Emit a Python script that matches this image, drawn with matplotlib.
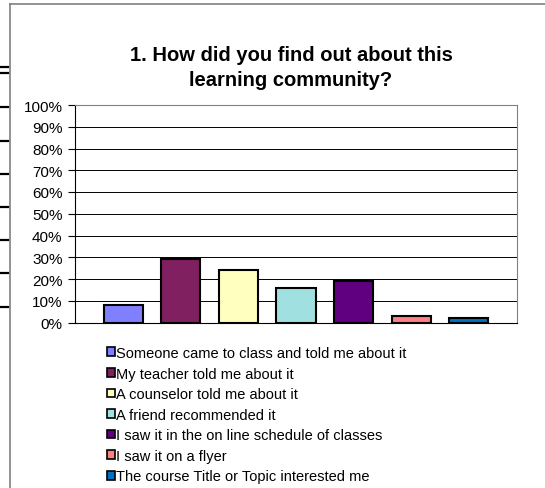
import numpy as np
import matplotlib
matplotlib.use('Agg')
import matplotlib.pyplot as plt
import matplotlib.patches as mpatches
from matplotlib.lines import Line2D
from matplotlib.ticker import PercentFormatter

plt.rcParams['font.family'] = ['Liberation Sans', 'DejaVu Sans']

# ── Data ──────────────────────────────────────────────────────────────────────
answers = [
    'Someone came to class and told me about it',
    'My teacher told me about it',
    'A counselor told me about it',
    'A friend recommended it',
    'I saw it in the on line schedule of classes',
    'I saw it on a flyer',
    'The course Title or Topic interested me',
]
shares = [0.08, 0.29, 0.24, 0.16, 0.19, 0.03, 0.02]
colors = ['#8080FF', '#802060', '#FFFFC0', '#A0E0E0', '#600080', '#FF8080', '#0070C0']
y_ticks = np.arange(0, 1.01, 0.1)

W, H = 545, 489
fig = plt.figure(figsize=(W / 100, H / 100), dpi=100)

def fx(px):
    return px / W

def fy(py):
    return 1 - py / H

# chart frame (gray border, runs off right / bottom)
fig.add_artist(Line2D([fx(10), fx(10)], [fy(5), 0], color='#808080', lw=1.2))
fig.add_artist(Line2D([fx(10), 1], [fy(5), fy(5)], color='#808080', lw=1.2))

# remnants of a chart behind (short black ticks at left edge)
for py in [68, 74, 108, 142, 175, 208, 241, 274, 308]:
    fig.add_artist(Line2D([0, fx(8)], [fy(py), fy(py)], color='black', lw=1.6))

ax = fig.add_axes([fx(75), fy(323.5), fx(517 - 75), (323.5 - 106) / H])
x = np.arange(len(answers))
ax.bar(x, shares, width=0.68, color=colors, edgecolor='black', linewidth=1.5, zorder=3)

ax.set_xlim(-0.84, len(answers) - 0.16)
ax.set_ylim(0, 1)
ax.set_yticks(y_ticks)
ax.yaxis.set_major_formatter(PercentFormatter(1.0, decimals=0))
ax.tick_params(axis='y', labelsize=11, length=5, width=0.8, pad=4)
ax.set_xticks([])
ax.grid(axis='y', color='black', lw=0.7, zorder=0)
for side in ['top', 'right']:
    ax.spines[side].set_color('#808080')
ax.spines['left'].set_color('black')
ax.spines['bottom'].set_color('black')

fig.text(fx(291), fy(68), '1. How did you find out about this\nlearning community?',
         ha='center', va='center', fontsize=14.5, fontweight='bold', linespacing=1.4)

handles = [mpatches.Patch(facecolor=c, edgecolor='black', linewidth=1.2, label=a)
           for a, c in zip(answers, colors)]
fig.legend(handles=handles, loc='upper left', bbox_to_anchor=(fx(107), fy(347)),
           frameon=False, fontsize=10.5, handlelength=0.55, handleheight=0.55,
           handletextpad=0.1, labelspacing=0.45, borderaxespad=0, borderpad=0)

fig.savefig('out.png', dpi=100)
